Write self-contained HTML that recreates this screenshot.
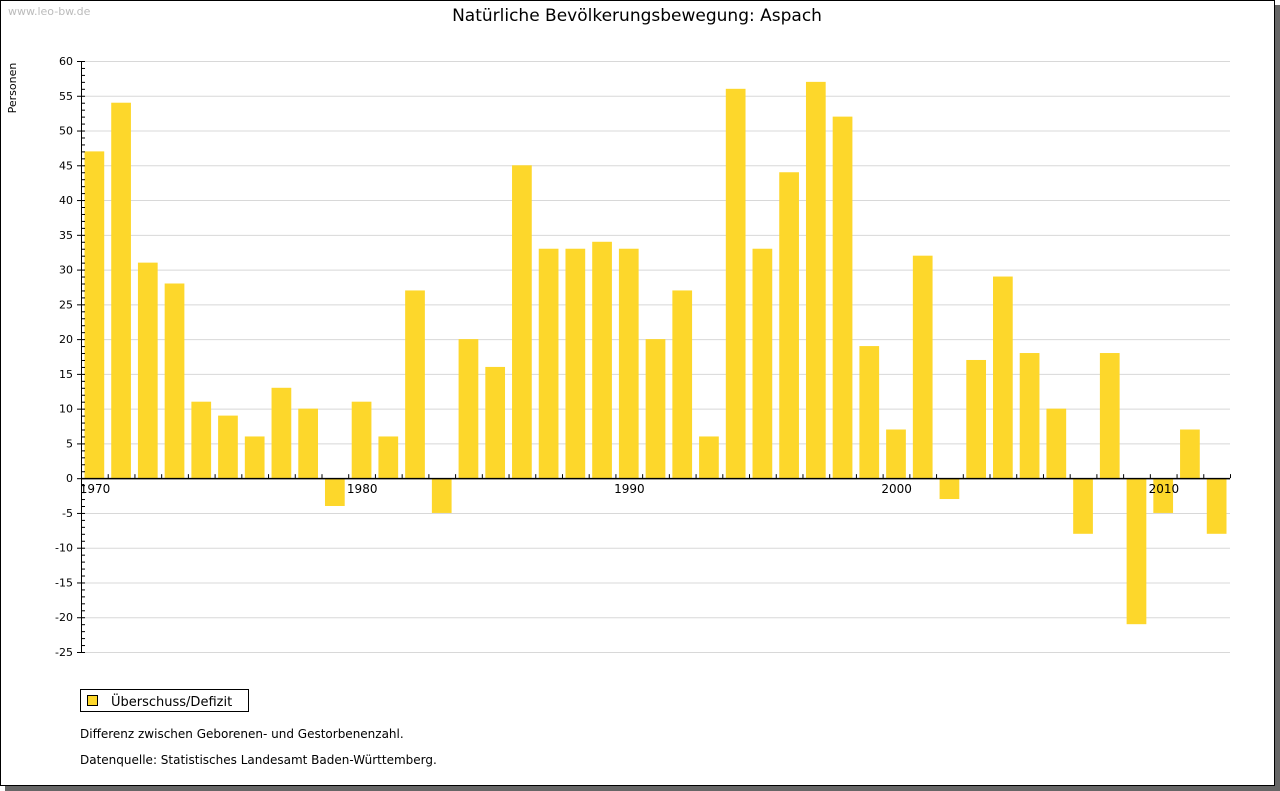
<!DOCTYPE html>
<html><head><meta charset="utf-8"><style>
body{margin:0;background:#fff;font-family:"Liberation Sans","DejaVu Sans",sans-serif}
#wrap{position:relative;width:1280px;height:791px;overflow:hidden}
</style></head><body>
<div id="wrap">
<svg id="c" width="1280" height="791" xmlns="http://www.w3.org/2000/svg" font-family="DejaVu Sans, Liberation Sans, sans-serif">
<rect x="5" y="5" width="1275" height="786" fill="#666"/>
<rect x="0.5" y="0.5" width="1274" height="785" fill="#fff" stroke="#000"/>
<text x="8" y="15" font-size="11" fill="#bbb">www.leo-bw.de</text>
<text x="637" y="21" font-size="17" text-anchor="middle" fill="#000">Natürliche Bevölkerungsbewegung: Aspach</text>
<text transform="translate(16,88) rotate(-90)" font-size="11" text-anchor="middle">Personen</text>
<g id="grid"></g><g id="bars"></g><g id="axes"></g>
<rect x="80.5" y="689.5" width="168" height="22" fill="#fff" stroke="#000"/>
<rect x="87.5" y="695.5" width="10" height="10" fill="#fdd72b" stroke="#000"/>
<text x="111" y="706" font-size="13">Überschuss/Defizit</text>
<text x="80" y="738" font-size="12">Differenz zwischen Geborenen- und Gestorbenenzahl.</text>
<text x="80" y="764" font-size="12">Datenquelle: Statistisches Landesamt Baden-Württemberg.</text>
</svg></div>
<script>
const years=[1970,1971,1972,1973,1974,1975,1976,1977,1978,1979,1980,1981,1982,1983,1984,1985,1986,1987,1988,1989,1990,1991,1992,1993,1994,1995,1996,1997,1998,1999,2000,2001,2002,2003,2004,2005,2006,2007,2008,2009,2010,2011,2012];
const values=[47,54,31,28,11,9,6,13,10,-4,11,6,27,-5,20,16,45,33,33,34,33,20,27,6,56,33,44,57,52,19,7,32,-3,17,29,18,10,-8,18,-21,-5,7,-8];
const yTicks=[60,55,50,45,40,35,30,25,20,15,10,5,0,-5,-10,-15,-20,-25];
const xLabels=[1970,1980,1990,2000,2010];
const NS="http://www.w3.org/2000/svg";
const X0=81,X1=1230,Y0=61,Y1=652,ymax=60,ymin=-25;
const step=(X1-X0)/years.length;
const y=v=>Y0+(ymax-v)*(Y1-Y0)/(ymax-ymin);
const xi=i=>X0+i*step;
function mk(t,a,p){const e=document.createElementNS(NS,t);for(const k in a)e.setAttribute(k,a[k]);document.getElementById(p).appendChild(e);return e;}
yTicks.forEach(v=>{
 const l=mk('line',{x1:X0,x2:X1,y1:y(v)+.5,y2:y(v)+.5,stroke:'#d8d8d8'},'grid');
 
 
 mk('line',{x1:X0-4,x2:X0,y1:y(v)+.5,y2:y(v)+.5,stroke:'#000'},'axes');
 const t=mk('text',{x:X0-8,y:y(v)+4,'font-size':11,'text-anchor':'end'},'axes');t.textContent=v;
 
 
});
for(let v=ymin;v<=ymax;v++){mk('line',{x1:X0,x2:X0+4,y1:y(v)+.5,y2:y(v)+.5,stroke:'#000'},'axes');}
values.forEach((v,i)=>{
 const top=Math.min(y(v),y(0)),h=Math.abs(y(v)-y(0));
 const r=mk('rect',{x:xi(i)+3.5,y:top,width:step-7,height:h,fill:'#fdd72b'},'bars');
 
 
});
mk('line',{x1:X0+.5,x2:X0+.5,y1:Y0,y2:Y1,stroke:'#000'},'axes');
mk('line',{x1:X0,x2:X1,y1:y(0)+.5,y2:y(0)+.5,stroke:'#000','stroke-width':1.5},'axes');
for(let i=0;i<=years.length;i++){mk('line',{x1:xi(i)+.5,x2:xi(i)+.5,y1:y(0)-4,y2:y(0),stroke:'#000'},'axes');}
xLabels.forEach(yr=>{
 const i=years.indexOf(yr);
 const t=mk('text',{x:xi(i)+14,y:y(0)+15,'font-size':12,'text-anchor':'middle'},'axes');t.textContent=yr;
 
 
});
</script>
</body></html>
